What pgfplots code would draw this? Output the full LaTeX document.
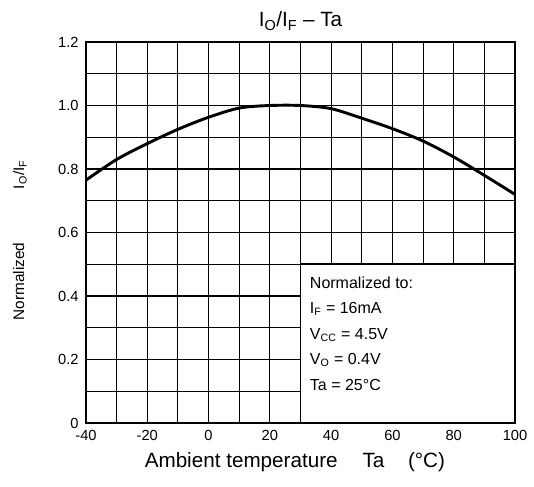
\documentclass[border=0pt]{standalone}
\usepackage{pgfplots}
\pgfplotsset{compat=1.18}
\usepackage{fontspec}
\setmainfont{Liberation Sans}
\usetikzlibrary{calc}
\begin{document}
\begin{tikzpicture}
\begin{axis}[
  name=ax,
  scale only axis,
  width=321.75pt, height=285.75pt,
  xmin=-40, xmax=100, ymin=0, ymax=1.2,
  xtick={-40,-20,...,100},
  ytick={0,0.2,...,1.2},
  yticklabels={0,0.2,0.4,0.6,0.8,1.0,1.2},
  minor xtick={-30,-10,...,90},
  minor ytick={0.1,0.3,...,1.1},
  grid=both,
  grid style={black, line width=0.85pt},
  major tick length=0pt, minor tick length=0pt,
  axis line style={line width=1.5pt},
  tick label style={font=\fontsize{11}{12}\selectfont},
  /pgf/number format/assume math mode=true,
  xticklabel style={yshift=-2pt},
  yticklabel style={xshift=-2pt},
  title={I\textsubscript{O}/I\textsubscript{F} -- Ta},
  title style={font=\fontsize{15.5}{16}\selectfont, yshift=-1pt},
  xlabel={Ambient temperature\hspace{1.2em}Ta\hspace{1.15em}(°C)},
  xlabel style={font=\fontsize{15.5}{16}\selectfont, at={(ticklabel cs:0.487)}, yshift=-2pt},
  ylabel={Normalized\hspace{3.5em}I\textsubscript{O}/I\textsubscript{F}},
  ylabel style={font=\fontsize{11.5}{12}\selectfont, at={(axis description cs:-0.154,0.48)}, anchor=center},
]
\addplot[black, line width=2.2pt, smooth, tension=0.5] coordinates {
  (-40,0.765) (-30,0.83) (-20,0.88) (-10,0.925) (0,0.963) (10,0.992)
  (20,1.0) (30,1.0) (40,0.99) (50,0.96) (60,0.927) (70,0.888)
  (80,0.838) (90,0.78) (100,0.72)
};
\draw[fill=white, line width=1.2pt] (axis cs:30,0) rectangle (axis cs:100,0.5);
\node[anchor=base west, inner sep=0pt, font=\fontsize{12}{13}\selectfont] at (axis cs:33,0.423) {Normalized to:};
\node[anchor=base west, inner sep=0pt, font=\fontsize{12}{13}\selectfont] at (axis cs:33,0.346) {I\textsubscript{F} = 16mA};
\node[anchor=base west, inner sep=0pt, font=\fontsize{12}{13}\selectfont] at (axis cs:33,0.264) {V\textsubscript{CC} = 4.5V};
\node[anchor=base west, inner sep=0pt, font=\fontsize{12}{13}\selectfont] at (axis cs:33,0.184) {V\textsubscript{O} = 0.4V};
\node[anchor=base west, inner sep=0pt, font=\fontsize{12}{13}\selectfont] at (axis cs:33,0.102) {Ta = 25°C};
\end{axis}
\pgfresetboundingbox
\path[use as bounding box] ($(ax.south west)+(-64.5pt,-47.25pt)$) rectangle ($(ax.north east)+(14.25pt,31.5pt)$);
\end{tikzpicture}
\end{document}
